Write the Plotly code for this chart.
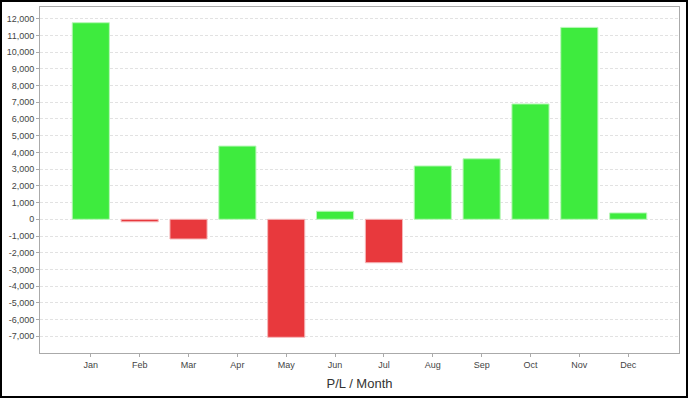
import plotly.graph_objects as go

months = ["Jan", "Feb", "Mar", "Apr", "May", "Jun", "Jul", "Aug", "Sep", "Oct", "Nov", "Dec"]
pl_values = [11760, -150, -1180, 4380, -7060, 480, -2600, 3190, 3620, 6900, 11480, 380]
y_ticks = list(range(-7000, 12001, 1000))
y_tick_labels = [f"{v:,}" for v in y_ticks]
x_title = "P/L / Month"

GREEN = "#3eeb3e"
RED = "#e8393d"
colors = [GREEN if v >= 0 else RED for v in pl_values]
line_colors = ["#b8f7b8" if v >= 0 else "#f5b8ba" for v in pl_values]

fig = go.Figure(go.Bar(
    x=list(range(len(months))),
    y=pl_values,
    marker=dict(color=colors, line=dict(color=line_colors, width=1)),
    width=0.76,
    hoverinfo="skip",
))

W, H = 688, 398
ml, mr, mt, mb = 40, 9, 7, 45
pw, ph = W - ml - mr, H - mt - mb

fig.update_layout(
    width=W, height=H,
    margin=dict(l=ml, r=mr, t=mt, b=mb, pad=0),
    paper_bgcolor="white",
    plot_bgcolor="white",
    showlegend=False,
    font=dict(family="Liberation Sans, Arial, sans-serif", size=9, color="#444"),
    xaxis=dict(
        range=[-1.04, 12.04],
        tickvals=list(range(len(months))),
        ticktext=months,
        showgrid=False,
        zeroline=False,
        showline=True, mirror=True, linecolor="#aaaaaa", linewidth=1,
        ticks="outside", ticklen=3, tickcolor="#aaaaaa",
        tickfont=dict(size=9, color="#444"),
        title=dict(text=x_title, font=dict(size=13, color="#333"), standoff=10),
    ),
    yaxis=dict(
        range=[-8000, 12700],
        tickvals=y_ticks,
        ticktext=y_tick_labels,
        showgrid=True, gridcolor="#e2e2e2", griddash="3px,2px", gridwidth=1,
        zeroline=False,
        showline=True, mirror=True, linecolor="#aaaaaa", linewidth=1,
        ticks="outside", ticklen=3, tickcolor="#aaaaaa",
        tickfont=dict(size=9, color="#444"),
    ),
    shapes=[dict(
        type="rect", xref="paper", yref="paper",
        x0=(1 - ml) / pw, x1=(W - 1 - ml) / pw,
        y0=-(H - 1 - mt - ph) / ph, y1=(ph + mt - 1) / ph,
        line=dict(color="black", width=2), layer="above",
    )],
)

fig.write_html(
    "out.html",
    config={"displayModeBar": False, "staticPlot": True},
    post_script="document.body.style.margin='0';document.body.style.overflow='hidden';",
)
